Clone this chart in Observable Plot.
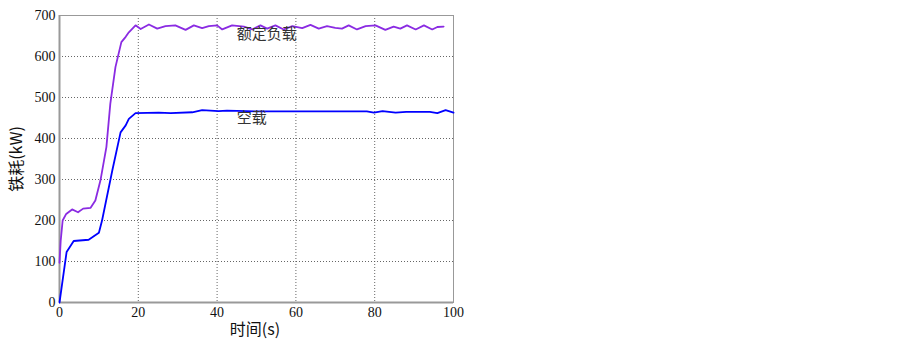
<!DOCTYPE html>
<html>
<head>
<meta charset="utf-8">
<script src="https://cdn.jsdelivr.net/npm/d3@7"></script>
<script src="https://cdn.jsdelivr.net/npm/@observablehq/plot@0.6"></script>
<style>
  html, body { margin: 0; padding: 0; background: #fff; }
  #chart svg { display: block; }
</style>
</head>
<body>
<div id="chart"></div>
<script>
// 额定负载 (rated load)
const ratedT = [0, 0.3, 0.8, 1.7, 3.2, 4.7, 6, 7.9, 9.1, 10.4, 11.9, 12.9, 14.2, 15.7, 16.8, 17.6, 19.3, 20.6, 22.7, 24.8, 26.9, 29.4, 32, 34.1, 36.2, 37.9, 40, 41.3, 43.8, 46.8, 48.9, 51, 52.7, 54.8, 56.9, 59.1, 61.6, 63.7, 65.8, 67.9, 70, 71.7, 73.4, 75.5, 77.7, 80.2, 82.7, 84.8, 86.5, 88.2, 90.4, 92.5, 94.6, 95.9, 97.5];
const ratedV = [97, 150, 200, 216, 227, 220, 229, 231, 249, 298, 379, 485, 574, 635, 648, 659, 676, 667, 678, 668, 674, 676, 665, 676, 669, 674, 676, 666, 676, 673, 666, 676, 668, 676, 666, 674, 669, 677, 668, 674, 670, 668, 676, 666, 674, 676, 665, 673, 668, 676, 666, 676, 666, 672, 673];
// 空载 (no load)
const noLoadT = [0, 1.8, 3.6, 7.4, 10, 10.8, 13.4, 15.5, 16.8, 17.6, 19.3, 25.2, 28.2, 33.7, 36.2, 40.4, 42.5, 50, 78, 79.8, 82, 85.3, 88, 94, 95.9, 98, 100];
const noLoadV = [0, 123, 150, 153, 170, 200, 322, 415, 432, 448, 462, 463, 462, 464, 469, 467, 468, 466, 466, 463, 467, 463, 465, 465, 462, 469, 463];

const xTicks = [0, 20, 40, 60, 80, 100];
const yTicks = [0, 100, 200, 300, 400, 500, 600, 700];
const annoLabels = ["额定负载", "空载"];
const annoT = [45, 45];
const annoV = [655, 450];

const rated = ratedT.map((t, i) => ({t, v: ratedV[i]}));
const noLoad = noLoadT.map((t, i) => ({t, v: noLoadV[i]}));
const anno = annoLabels.map((s, i) => ({s, t: annoT[i], v: annoV[i]}));

const chart = Plot.plot({
  width: 903,
  height: 347,
  marginLeft: 59,
  marginRight: 450,
  marginTop: 15,
  marginBottom: 45,
  style: {background: "#fff", fontFamily: "'Liberation Serif', 'Times New Roman', serif"},
  x: {domain: [0, 100], ticks: xTicks},
  y: {domain: [0, 700], ticks: yTicks},
  marks: [
    Plot.gridX(xTicks.slice(1, -1), {stroke: "#555", strokeOpacity: 0.9, strokeDasharray: "1,2"}),
    Plot.gridY(yTicks.slice(1, -1), {stroke: "#555", strokeOpacity: 0.9, strokeDasharray: "1,2"}),
    Plot.frame({stroke: "#999", strokeWidth: 1}),
    Plot.axisX({ticks: xTicks, tickSize: 0, tickPadding: 5, fontSize: 14, fill: "#111", label: null}),
    Plot.axisY({ticks: yTicks, tickSize: 0, tickPadding: 4, fontSize: 14, fill: "#111", label: null}),
    Plot.ruleX([0], {stroke: "#999", strokeWidth: 2}),
    Plot.ruleY([0], {stroke: "#999", strokeWidth: 2}),
    Plot.line(rated, {x: "t", y: "v", stroke: "#8a2be2", strokeWidth: 1.8}),
    Plot.line(noLoad, {x: "t", y: "v", stroke: "#0000ff", strokeWidth: 1.8}),
    Plot.text(anno, {x: "t", y: "v", text: "s", textAnchor: "start", fontSize: 15, fill: "#333", fontFamily: "'Noto Sans CJK SC', sans-serif"})
  ]
});

const svg = d3.select(chart);
// axis titles
svg.append("text")
  .attr("x", 255).attr("y", 331)
  .attr("text-anchor", "middle").attr("dominant-baseline", "middle")
  .attr("font-size", 16).attr("fill", "#111")
  .attr("font-family", "'Noto Sans CJK SC', sans-serif")
  .text("时间(s)");
svg.append("text")
  .attr("transform", "translate(18,159) rotate(-90)")
  .attr("text-anchor", "middle").attr("dominant-baseline", "middle")
  .attr("font-size", 16).attr("fill", "#111")
  .attr("font-family", "'Noto Sans CJK SC', sans-serif")
  .text("铁耗(kW)");

document.getElementById("chart").appendChild(chart);
</script>
</body>
</html>
